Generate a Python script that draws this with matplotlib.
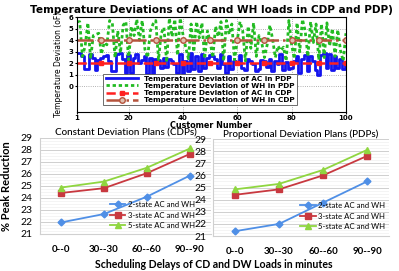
import matplotlib
matplotlib.use("Agg")
import matplotlib.pyplot as plt
import numpy as np

# top chart data (read by eye)
customers = np.arange(1, 101)
ac_pdp = [2.9, 2.9, 2.6, 1.5, 1.5, 2.8, 2.5, 1.4, 2.3, 2.5,
          2.6, 2.7, 2.2, 1.3, 1.3, 2.8, 2.9, 2.4, 1.2, 2.7,
          1.2, 2.5, 2.8, 2.0, 2.3, 2.6, 1.1, 2.5, 1.1, 2.4,
          2.3, 1.6, 2.5, 1.7, 2.4, 2.2, 1.9, 1.2, 2.8, 1.0,
          2.2, 1.3, 2.9, 1.5, 2.6, 1.3, 2.8, 1.6, 2.5, 2.7,
          2.6, 2.4, 1.6, 2.8, 1.9, 1.2, 2.6, 1.5, 2.2, 2.0,
          2.7, 1.6, 1.4, 2.4, 2.2, 1.9, 1.3, 1.5, 2.3, 2.2,
          1.7, 2.4, 1.3, 2.2, 1.9, 2.8, 1.4, 2.1, 1.5, 1.6,
          2.2, 2.6, 1.2, 2.4, 2.7, 1.3, 2.6, 2.2, 1.4, 1.0,
          2.7, 2.9, 1.6, 2.8, 1.4, 2.6, 1.6, 2.4, 1.5, 2.0]
wh_pdp = [5.6, 5.6, 2.6, 3.5, 5.5, 2.4, 4.4, 4.5, 4.6, 2.8,
          3.8, 3.6, 5.7, 5.5, 2.5, 4.8, 2.9, 5.3, 5.6, 2.3,
          5.2, 4.4, 5.8, 4.0, 5.7, 3.2, 2.5, 4.8, 5.4, 5.7,
          2.3, 4.6, 5.1, 2.1, 5.9, 4.3, 5.8, 2.7, 5.9, 4.5,
          3.4, 2.4, 5.4, 3.0, 5.6, 4.2, 5.5, 2.4, 4.8, 3.9,
          2.5, 5.2, 4.3, 5.6, 2.2, 5.7, 4.5, 5.4, 2.3, 4.0,
          5.6, 4.8, 2.2, 5.2, 3.3, 5.5, 2.6, 4.4, 3.8, 2.5,
          3.6, 5.3, 4.1, 2.5, 3.5, 3.1, 3.4, 2.2, 5.7, 3.6,
          2.4, 5.5, 3.0, 5.8, 4.8, 2.6, 5.6, 3.8, 5.4, 2.3,
          5.4, 2.5, 5.5, 3.5, 5.0, 2.6, 4.9, 3.1, 2.2, 4.6]
ac_cdp = [2.0] * 100
wh_cdp = [4.0] * 100

# bottom charts
delays = ["0--0", "30--30", "60--60", "90--90"]
cdp_2state = [21.95, 22.65, 24.1, 25.85]
cdp_3state = [24.4, 24.8, 26.05, 27.65]
cdp_5state = [24.85, 25.35, 26.5, 28.1]
pdp_2state = [21.4, 22.0, 23.75, 25.5]
pdp_3state = [24.4, 24.85, 26.0, 27.6]
pdp_5state = [24.85, 25.3, 26.45, 28.1]

CAL = ["Lato", "DejaVu Sans"]

fig = plt.figure(figsize=(3.99, 2.71), dpi=100)

# ---- top panel ----
ax = fig.add_axes([0.193, 0.587, 0.674, 0.35])
ax.plot(customers, ac_pdp, color="#1414ee", lw=2.0, drawstyle="steps-mid",
        label="Temperature Deviation of AC in PDP")
ax.plot(customers, wh_pdp, color="#22bb22", lw=2.0, ls=(0, (1.2, 1.0)),
        label="Temperature Deviation of WH in PDP")
ax.plot(customers, ac_cdp, color="#ff2020", lw=1.8, ls="--", marker="s",
        markersize=3.5, markevery=list(range(9, 100, 10)),
        label="Temperature Deviation of AC in CDP")
ax.plot(customers, wh_cdp, color="#b5533c", lw=1.8, ls="-.", marker="o",
        markersize=4, markerfacecolor="#e0c0b0", markevery=list(range(9, 100, 10)),
        label="Temperature Deviation of WH in CDP")
ax.set_xlim(1, 100)
ax.set_ylim(-2.2, 6)
ax.set_xticks([1, 20, 40, 60, 80, 100])
ax.set_yticks(range(0, 7))
ax.tick_params(labelsize=5, length=1.5, pad=1)
for lbl in ax.get_xticklabels() + ax.get_yticklabels():
    lbl.set_fontweight("bold")
ax.grid(ls=":", color="#999999", lw=0.6)
ax.set_ylabel("Temperature Deviation (oF)", fontsize=5.5,
              family=["Liberation Sans Narrow", "DejaVu Sans"], labelpad=4)
ax.set_xlabel("Customer Number", fontsize=5.8, fontweight="bold", labelpad=-0.5)
ax.set_title("Temperature Deviations of AC and WH loads in CDP and PDP)",
             fontsize=7.6, fontweight="bold", pad=3)
leg = ax.legend(loc="lower left", bbox_to_anchor=(0.085, 0.03),
                handlelength=4.5, labelspacing=0.15, borderpad=0.3,
                fancybox=False, edgecolor="#555555", framealpha=1,
                prop={"weight": "bold", "size": 5.2})
leg.get_frame().set_linewidth(0.6)

# ---- bottom panels ----
def line_panel(rect, title, s2, s3, s5, legend_anchor):
    a = fig.add_axes(rect)
    x = np.arange(len(delays))
    a.plot(x, s2, color="#4f8fe6", lw=1.3, marker="D", markersize=3.5,
           label="2-state AC and WH")
    a.plot(x, s3, color="#c8383f", lw=1.3, marker="s", markersize=4,
           label="3-state AC and WH")
    a.plot(x, s5, color="#8fd640", lw=1.3, marker="^", markersize=4.5,
           label="5-state AC and WH")
    a.set_xlim(-0.5, 3.5)
    a.set_ylim(21, 29)
    a.set_yticks(range(21, 30))
    a.set_yticks(np.arange(21, 29, 0.25), minor=True)
    a.set_xticks(x)
    a.set_xticklabels(delays, fontweight="bold", family=CAL)
    for lbl in a.get_yticklabels():
        lbl.set_family(CAL)
    a.tick_params(axis="y", labelsize=7.5, length=0, pad=5)
    a.tick_params(axis="x", labelsize=7, length=0, pad=8)
    a.tick_params(which="minor", length=0)
    a.grid(axis="y", which="major", color="#c8c8c8", lw=0.6)
    a.grid(axis="y", which="minor", color="#ececec", lw=0.4)
    a.set_axisbelow(True)
    for side in ["top", "right"]:
        a.spines[side].set_visible(False)
    a.spines["left"].set_color("#d0d0d0")
    a.spines["bottom"].set_color("#d0d0d0")
    a.set_title(title, fontsize=7, pad=0.5, family=CAL, fontweight="medium")
    a.legend(loc="lower right", bbox_to_anchor=legend_anchor,
             frameon=False, handlelength=2.0, labelspacing=0.45,
             borderpad=0.0, handletextpad=0.3,
             prop={"family": CAL, "size": 5.6})
    return a

ax1 = line_panel([0.099, 0.137, 0.431, 0.355], "Constant Deviation Plans (CDPs)",
                 cdp_2state, cdp_3state, cdp_5state, (0.925, 0.01))
ax1.set_ylabel("% Peak Reduction", fontsize=8, fontweight="bold",
               family=CAL, labelpad=6)
ax2 = line_panel([0.534, 0.129, 0.441, 0.358], "Proportional Deviation Plans (PDPs)",
                 pdp_2state, pdp_3state, pdp_5state, (1.0, 0.02))

fig.text(0.535, 0.012, "Scheduling Delays of CD and DW Loads in minutes",
         ha="center", fontsize=7.6, fontweight="bold", family=CAL)

fig.savefig("out.png", dpi=100)
